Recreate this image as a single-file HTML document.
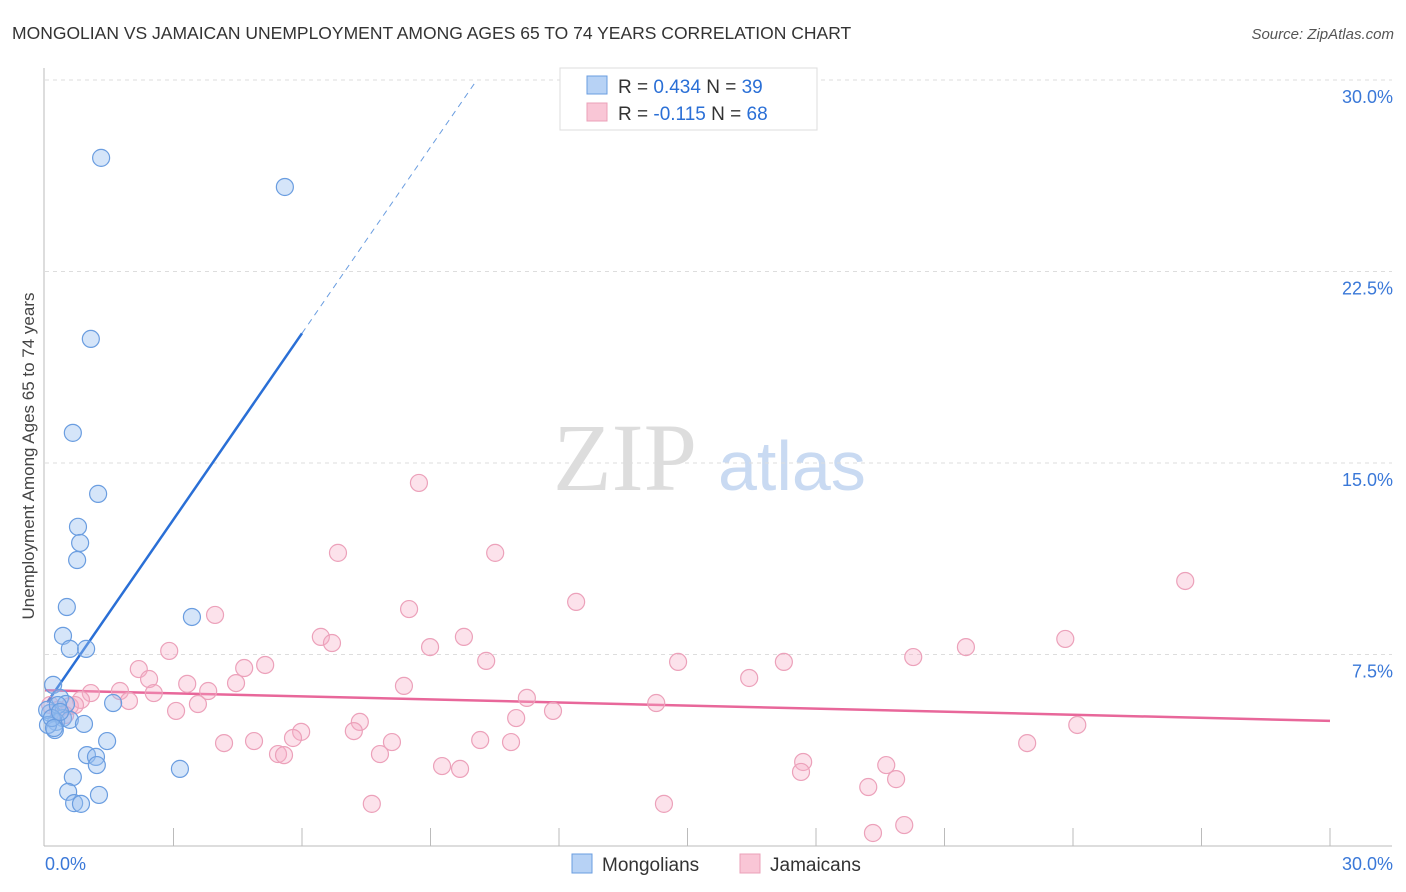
<!DOCTYPE html>
<html><head><meta charset="utf-8"><style>
body{margin:0;background:#fff;font-family:"Liberation Sans",sans-serif;}
svg{display:block}
</style></head><body>
<svg id="chart" width="1406" height="892" font-family="Liberation Sans, sans-serif">
<text x="12" y="39" font-size="17.5" fill="#333">MONGOLIAN VS JAMAICAN UNEMPLOYMENT AMONG AGES 65 TO 74 YEARS CORRELATION CHART</text>
<text x="1394" y="39" font-size="15" fill="#555" font-style="italic" text-anchor="end">Source: ZipAtlas.com</text>
<text x="34" y="456" font-size="17" fill="#444" text-anchor="middle" transform="rotate(-90 34 456)">Unemployment Among Ages 65 to 74 years</text>
<g><text x="553" y="490" font-size="96" font-family="Liberation Serif, serif" fill="#ddd">ZIP</text><text x="718" y="490" font-size="70" fill="#c9daf2">atlas</text></g>
<g id="grid"></g><g id="axes"></g><g id="lines"></g><g id="pts"></g>
<g>
<rect x="560" y="68" width="257" height="62" fill="#fff" stroke="#ddd"/>
<rect x="587" y="76" width="20" height="18" fill="#b7d2f5" stroke="#6a9de0"/>
<rect x="587" y="103" width="20" height="18" fill="#f9c6d6" stroke="#eba0b8"/>
<text x="618" y="93" font-size="19" fill="#333">R = <tspan fill="#2a6fd6">0.434</tspan>   N = <tspan fill="#2a6fd6">39</tspan></text>
<text x="618" y="120" font-size="19" fill="#333">R = <tspan fill="#2a6fd6">-0.115</tspan>   N = <tspan fill="#2a6fd6">68</tspan></text>
</g>
<g>
<rect x="572" y="854" width="20" height="19" fill="#b7d2f5" stroke="#6a9de0"/>
<text x="602" y="871" font-size="19" fill="#333">Mongolians</text>
<rect x="740" y="854" width="20" height="19" fill="#f9c6d6" stroke="#eba0b8"/>
<text x="770" y="871" font-size="19" fill="#333">Jamaicans</text>
</g>
</svg>
<script>
const yTicks=[7.5,15,22.5,30];
const yTickLabels=["7.5%","15.0%","22.5%","30.0%"];
const xLabels=["0.0%","30.0%"];
const blueX=[1.31,5.60,1.07,0.65,1.24,0.77,0.82,0.75,0.51,0.42,0.58,0.96,3.43,0.19,0.35,0.49,0.12,0.42,0.26,0.05,0.58,0.91,1.59,1.45,0.98,1.19,1.21,3.15,0.65,0.54,1.26,0.68,0.84,0.23,0.30,0.07,0.16,0.35,0.21];
const blueY=[26.95,25.81,19.86,16.18,13.79,12.50,11.87,11.20,9.36,8.23,7.72,7.72,8.97,6.31,5.80,5.56,5.21,5.01,4.86,5.33,4.94,4.78,5.60,4.11,3.56,3.49,3.17,3.02,2.70,2.12,2.00,1.68,1.65,4.54,5.52,4.74,5.01,5.25,4.62];
const pinkX=[8.73,6.84,10.51,26.62,12.40,3.97,8.50,6.44,6.70,9.78,23.82,8.99,21.50,2.90,20.27,2.19,10.30,14.78,17.25,4.65,5.14,16.44,2.43,3.32,4.46,8.38,1.75,3.81,1.07,2.54,0.84,11.25,1.96,3.57,14.27,0.58,11.86,3.06,11.00,7.35,24.10,5.98,7.21,5.79,4.18,4.88,8.10,10.16,10.88,22.93,5.44,5.58,7.82,17.70,19.64,9.27,9.69,17.65,19.87,19.22,7.63,14.45,20.06,19.33,0.30,0.47,0.70,0.12];
const pinkY=[14.22,11.48,11.48,10.38,9.56,9.05,9.28,8.19,7.95,8.19,8.11,7.79,7.79,7.64,7.40,6.93,7.25,7.21,7.21,6.97,7.09,6.58,6.54,6.35,6.38,6.27,6.07,6.07,5.99,5.99,5.72,5.80,5.68,5.56,5.60,5.48,5.29,5.29,5.01,4.86,4.74,4.47,4.50,4.23,4.03,4.11,4.07,4.15,4.07,4.03,3.60,3.56,3.60,3.29,3.17,3.13,3.02,2.90,2.62,2.31,1.65,1.65,0.82,0.51,5.33,5.13,5.52,5.52];
const blueTrend=[5.5,2.43]; // intercept, slope
const pinkTrend=[6.1,-0.04];
const X=v=>45+v/30*1285, Y=v=>846-v/30*766;
const NS="http://www.w3.org/2000/svg";
function mk(tag,parent,attrs){const e=document.createElementNS(NS,tag);for(const k in attrs)e.setAttribute(k,attrs[k]);document.getElementById(parent).appendChild(e);return e;}
yTicks.forEach((t,i)=>{
 const l=mk('line','grid',{x1:45,x2:1392,y1:Y(t),y2:Y(t),stroke:'#ddd','stroke-dasharray':'4,4'});
 
 
 const tx=mk('text','grid',{x:1393,y:Y(t)+23,'font-size':18,fill:'#3a78d8','text-anchor':'end'});tx.textContent=yTickLabels[i];
 
 
});
let a=mk('line','axes',{x1:44,x2:44,y1:68,y2:846,stroke:'#bbb'});


a=mk('line','axes',{x1:44,x2:1392,y1:846,y2:846,stroke:'#bbb'});


for(let i=1;i<=10;i++){const t=mk('line','axes',{x1:X(i*3),x2:X(i*3),y1:828,y2:846,stroke:'#bbb'});
 
 }
let xl=mk('text','axes',{x:45,y:870,'font-size':18,fill:'#3a78d8'});xl.textContent=xLabels[0];


xl=mk('text','axes',{x:1393,y:870,'font-size':18,fill:'#3a78d8','text-anchor':'end'});xl.textContent=xLabels[1];


pinkX.forEach((v,i)=>{const c=mk('circle','pts',{cx:X(v),cy:Y(pinkY[i]),r:8.5,fill:'rgba(246,172,198,0.35)',stroke:'#eca1ba','stroke-width':1.2});
 
 });
blueX.forEach((v,i)=>{const c=mk('circle','pts',{cx:X(v),cy:Y(blueY[i]),r:8.5,fill:'rgba(150,190,240,0.4)',stroke:'#6a9de0','stroke-width':1.2});
 
 });
const bx1=6.0,bx2=(30-blueTrend[0])/blueTrend[1];
let tl=mk('line','lines',{x1:X(0.05),y1:Y(blueTrend[0]+blueTrend[1]*0.05),x2:X(bx1),y2:Y(blueTrend[0]+blueTrend[1]*bx1),stroke:'#2a6fd6','stroke-width':2.5});


tl=mk('line','lines',{x1:X(bx1),y1:Y(blueTrend[0]+blueTrend[1]*bx1),x2:X(bx2),y2:Y(30),stroke:'#6a9de0','stroke-width':1,'stroke-dasharray':'6,5'});


tl=mk('line','lines',{x1:X(0),y1:Y(pinkTrend[0]),x2:X(30),y2:Y(pinkTrend[0]+pinkTrend[1]*30),stroke:'#e8679a','stroke-width':2.5});


</script>
</body></html>
